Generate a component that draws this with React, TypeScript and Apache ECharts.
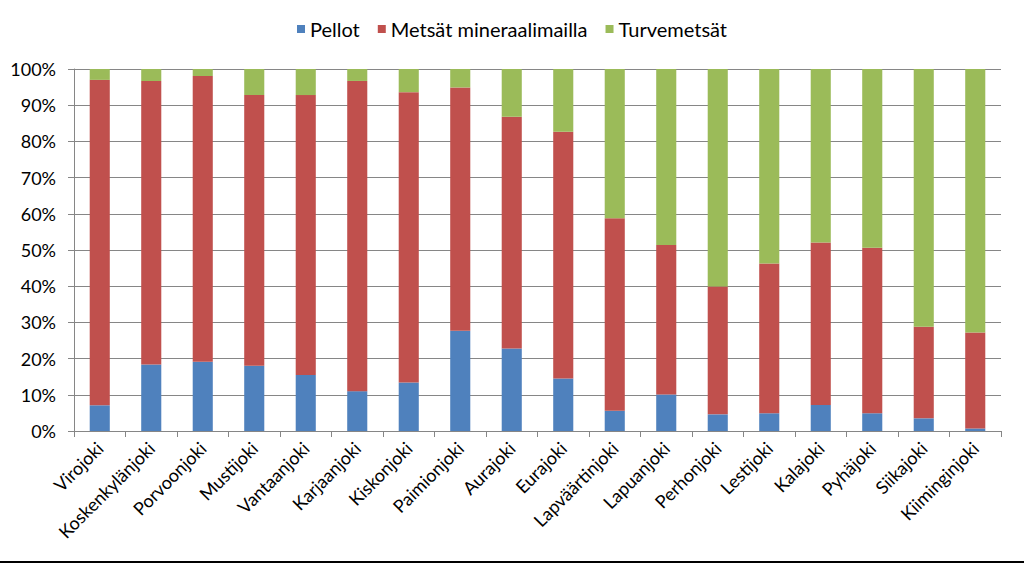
import React, { useEffect, useRef } from "react";
import * as echarts from "echarts";

const categories = [
  "Virojoki", "Koskenkylänjoki", "Porvoonjoki", "Mustijoki", "Vantaanjoki",
  "Karjaanjoki", "Kiskonjoki", "Paimionjoki", "Aurajoki", "Eurajoki",
  "Lapväärtinjoki", "Lapuanjoki", "Perhonjoki", "Lestijoki", "Kalajoki",
  "Pyhäjoki", "Siikajoki", "Kiiminginjoki",
];

const pellot = [7.1, 18.4, 19.1, 18.0, 15.5, 11.0, 13.4, 27.7, 22.8, 14.5, 5.6, 10.1, 4.6, 4.9, 7.2, 4.9, 3.5, 0.7];
const metsat = [89.9, 78.3, 79.0, 74.8, 77.3, 85.7, 80.2, 67.2, 64.0, 68.2, 53.2, 41.3, 35.3, 41.4, 44.9, 45.7, 25.3, 26.5];
const turve = [3.0, 3.3, 1.9, 7.2, 7.2, 3.3, 6.4, 5.1, 13.2, 17.3, 41.2, 48.6, 60.1, 53.7, 47.9, 49.4, 71.2, 72.8];

const seriesNames = ["Pellot", "Metsät mineraalimailla", "Turvemetsät"];
const colors = ["#4F81BD", "#C0504D", "#9BBB59"];

export default function App() {
  const ref = useRef<HTMLDivElement>(null);
  useEffect(() => {
    if (!ref.current) return;
    const chart = echarts.init(ref.current, null, { renderer: "svg" });
    const font = "Lato, 'Open Sans', sans-serif";
    const data = [pellot, metsat, turve];
    chart.setOption({
      animation: false,
      backgroundColor: "#ffffff",
      textStyle: { fontFamily: font },
      legend: {
        top: 14,
        left: "center",
        itemWidth: 8,
        itemHeight: 8,
        itemGap: 18,
        icon: "rect",
        textStyle: { fontSize: 20, color: "#000", fontFamily: font },
        data: seriesNames,
      },
      grid: { left: 74, right: 23, top: 69, bottom: 133, containLabel: false },
      xAxis: {
        type: "category",
        data: categories,
        axisLine: { lineStyle: { color: "#868686" } },
        axisTick: { show: true, length: 6, lineStyle: { color: "#868686" } },
        axisLabel: { rotate: 45, fontSize: 18, color: "#000", margin: 14, interval: 0, fontFamily: font },
      },
      yAxis: {
        type: "value",
        min: 0,
        max: 100,
        interval: 10,
        axisLine: { show: true, lineStyle: { color: "#868686" } },
        axisTick: { show: true, length: 6, lineStyle: { color: "#868686" } },
        splitLine: { lineStyle: { color: "#868686" } },
        axisLabel: { formatter: "{value}%", fontSize: 18, color: "#000", margin: 18, fontFamily: font },
      },
      series: seriesNames.map((name, i) => ({
        name,
        type: "bar",
        stack: "total",
        barWidth: "39%",
        itemStyle: { color: colors[i] },
        data: data[i],
      })),
      graphic: [
        { type: "rect", left: 0, top: 561, shape: { width: 1024, height: 2 }, style: { fill: "#000" } },
      ],
    });
    return () => chart.dispose();
  }, []);
  return <div ref={ref} style={{ position: "fixed", left: 0, top: 0, width: 1024, height: 564 }} />;
}
